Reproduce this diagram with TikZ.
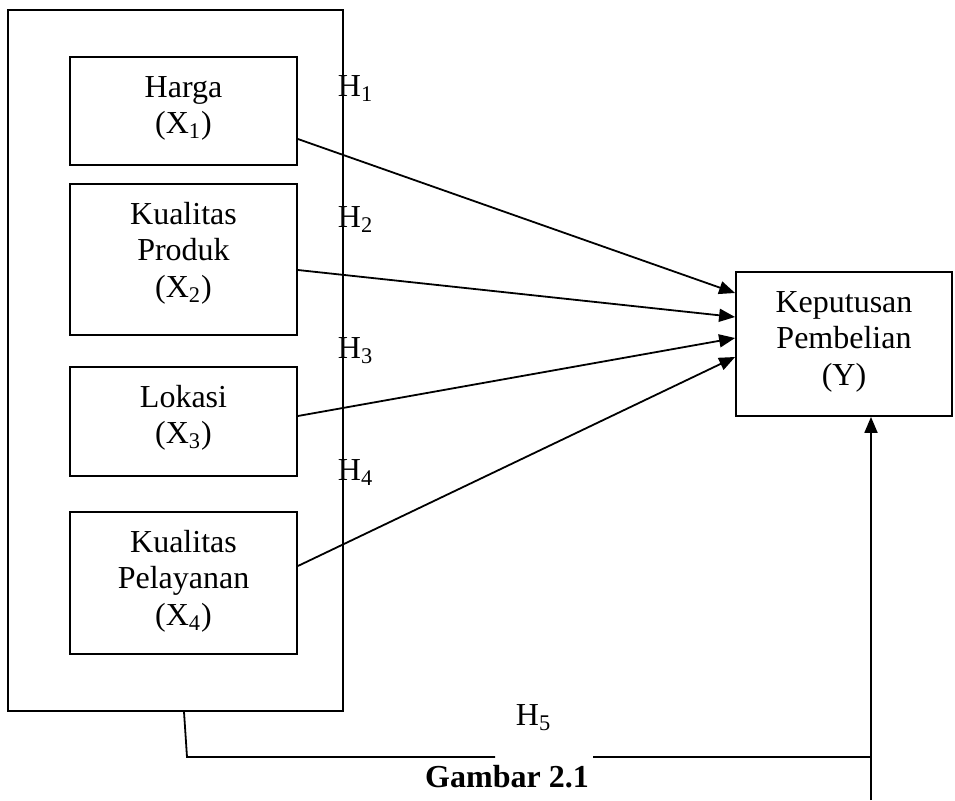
\documentclass[tikz,border=0pt]{standalone}
\usepackage{fontspec}
\setmainfont{Liberation Serif}
\usetikzlibrary{arrows.meta}

\begin{document}
\begin{tikzpicture}[
        x=0.5pt, y=-0.5pt,
        font=\fontsize{16pt}{18.25pt}\selectfont,
        line width=0.9pt,
        varbox/.style={
            draw,
            align=center,
            minimum width=113.5pt,
            inner sep=0pt
        },
        twolines/.style={varbox, text height=38.25pt},
        threelines/.style={varbox, text height=56.5pt},
        hyp/.style={anchor=base west, inner sep=0pt},
        arr/.style={-{Triangle[length=8pt,width=6.5pt]}}
    ]
    \useasboundingbox (0,0) rectangle (955,800);

    \node[draw, minimum width=167.5pt, minimum height=350.5pt] (group) at (175.5,360.5) {};

    \node[twolines, text depth=15.75pt] (harga) at (183.5,111) {Harga\\(X\textsubscript{1})};
    \node[threelines, text depth=19pt] (produk) at (183.5,259.5) {Kualitas\\Produk\\(X\textsubscript{2})};
    \node[twolines, text depth=16.25pt] (lokasi) at (183.5,421.5) {Lokasi\\(X\textsubscript{3})};
    \node[threelines, text depth=14.5pt] (pelayanan) at (183.5,583) {Kualitas\\Pelayanan\\(X\textsubscript{4})};

    \node[threelines, minimum width=108pt, text depth=15.5pt] (keputusan) at (844,344) {Keputusan\\Pembelian\\(Y)};

    \node[hyp] (h1) at (337,96) {H\textsubscript{1}};
    \node[hyp] (h2) at (337,227) {H\textsubscript{2}};
    \node[hyp] (h3) at (337,358) {H\textsubscript{3}};
    \node[hyp] (h4) at (337,480) {H\textsubscript{4}};
    \node[hyp] (h5) at (515,725) {H\textsubscript{5}};

    \node[anchor=base, inner sep=0pt] (caption) at (507,787) {\textbf{Gambar 2.1}};

    \draw[arr] ([yshift=-14pt]harga.east) -- ([yshift=25.5pt]keputusan.west);
    \draw[arr] ([yshift=-5.25pt]produk.east) -- ([yshift=13.5pt]keputusan.west);
    \draw[arr] ([yshift=2.75pt]lokasi.east) -- ([yshift=3pt]keputusan.west);
    \draw[arr] ([yshift=8.5pt]pelayanan.east) -- ([yshift=-6.5pt]keputusan.west);

    % simultaneous path (H5)
    \coordinate (bend) at (187,757);
    \coordinate (gapl) at (495,757);
    \coordinate (gapr) at (593,757);
    \coordinate (corner) at (871,757);
    \coordinate (foot) at (871,800);
    \draw ([xshift=4.25pt]group.south) -- (bend) -- (gapl);
    \draw (gapr) -- (corner);
    \draw[arr] (foot) -- (keputusan.south -| foot);

\end{tikzpicture}
\end{document}
